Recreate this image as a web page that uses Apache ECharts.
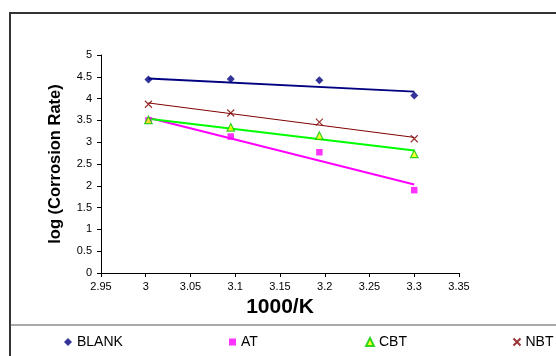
<!DOCTYPE html>
<html>
<head>
<meta charset="utf-8">
<script src="https://cdn.jsdelivr.net/npm/echarts@6/dist/echarts.min.js"></script>
<style>
  html, body { margin: 0; padding: 0; background: #fff; }
  #main { width: 556px; height: 356px; }
</style>
</head>
<body>
<div id="main"></div>
<script>
  // 1000/K values (same for every series)
  var xVals = [3.003, 3.095, 3.194, 3.3]
  // log (Corrosion Rate)
  var yBlank = [4.44, 4.45, 4.42, 4.07]
  var yAT = [3.5, 3.13, 2.77, 1.9]
  var yCBT = [3.51, 3.34, 3.15, 2.73]
  var yNBT = [3.87, 3.67, 3.46, 3.08]
  // linear trend lines, value at first and last x
  var trendX = [3.003, 3.3]
  var tBlank = [4.46, 4.16]
  var tAT = [3.56, 2.03]
  var tCBT = [3.54, 2.81]
  var tNBT = [3.9, 3.11]

  function pts(xs, ys) {
    return xs.map(function (x, i) { return [x, ys[i]] })
  }

  var font = 'Liberation Sans, Arial, sans-serif'
  var crossPath = 'path://M0,0L10,10M10,0L0,10'

  var myChart = echarts.init(document.getElementById('main'))
  var legendPos = [['BLANK', 64, 8], ['AT', 229, 7], ['CBT', 365, 8], ['NBT', 511, 7]]
  var option = {
    animation: false,
    textStyle: { fontFamily: font },
    grid: { left: 101, right: 97, top: 55, bottom: 83 },
    graphic: [
      {
        type: 'rect', silent: true,
        shape: { x: 10, y: 13, width: 600, height: 400 },
        style: { fill: 'none', stroke: '#333', lineWidth: 2 }
      },
      {
        type: 'line', silent: true,
        shape: { x1: 10, y1: 325, x2: 600, y2: 325 },
        style: { stroke: '#555', lineWidth: 1.2 }
      }
    ],
    legend: legendPos.map(function (p) {
      return {
        data: [p[0]], left: p[1], top: 335, padding: 0,
        itemWidth: p[2], itemHeight: p[2],
        textStyle: { fontSize: 14, color: '#000', fontFamily: font }
      }
    }),
    xAxis: {
      type: 'value', min: 2.95, max: 3.35, interval: 0.05,
      name: '1000/K', nameLocation: 'middle', nameGap: 24,
      nameTextStyle: { fontSize: 21, fontWeight: 'bold', color: '#000' },
      axisLine: { lineStyle: { color: '#000', width: 1 } },
      axisTick: { lineStyle: { color: '#000' }, length: 4 },
      axisLabel: { fontSize: 11, color: '#000', margin: 8,
        formatter: function (v) { return String(Math.round(v * 100) / 100) } },
      splitLine: { show: false }
    },
    yAxis: {
      type: 'value', min: 0, max: 5, interval: 0.5,
      name: 'log (Corrosion Rate)', nameLocation: 'middle', nameGap: 37,
      nameTextStyle: { fontSize: 16.5, fontWeight: 'bold', color: '#000' },
      axisLine: { show: true, lineStyle: { color: '#000', width: 1 } },
      axisTick: { show: true, lineStyle: { color: '#000' }, length: 4 },
      axisLabel: { fontSize: 11, color: '#000', margin: 9 },
      splitLine: { show: false }
    },
    series: [
      { name: 'BLANK trend', type: 'line', data: pts(trendX, tBlank), showSymbol: false,
        lineStyle: { color: '#000080', width: 2 }, z: 2 },
      { name: 'AT trend', type: 'line', data: pts(trendX, tAT), showSymbol: false,
        lineStyle: { color: '#ff00ff', width: 2 }, z: 2 },
      { name: 'CBT trend', type: 'line', data: pts(trendX, tCBT), showSymbol: false,
        lineStyle: { color: '#00ff00', width: 2 }, z: 2 },
      { name: 'NBT trend', type: 'line', data: pts(trendX, tNBT), showSymbol: false,
        lineStyle: { color: '#800000', width: 1 }, z: 2 },
      { name: 'BLANK', type: 'scatter', data: pts(xVals, yBlank), symbol: 'diamond', symbolSize: 8,
        itemStyle: { color: '#000080' }, z: 3 },
      { name: 'AT', type: 'scatter', data: pts(xVals, yAT), symbol: 'rect', symbolSize: 6.5,
        itemStyle: { color: '#ff00ff' }, z: 3 },
      { name: 'CBT', type: 'scatter', data: pts(xVals, yCBT), symbol: 'triangle', symbolSize: 7.5,
        itemStyle: { color: '#ffff00', borderColor: '#00cc00', borderWidth: 1.2 }, z: 3 },
      { name: 'NBT', type: 'scatter', data: pts(xVals, yNBT), symbol: crossPath, symbolSize: 7,
        itemStyle: { color: 'none', borderColor: '#800000', borderWidth: 1.2 }, z: 3 }
    ]
  }
  myChart.setOption(option)
</script>
</body>
</html>
